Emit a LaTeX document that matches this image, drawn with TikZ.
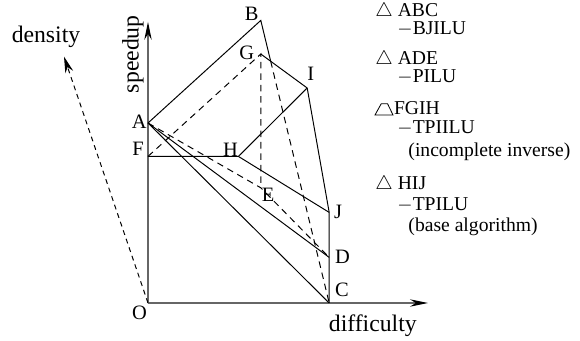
\documentclass[tikz,border=0pt,12pt]{standalone}
\usepackage{fontspec}
\setmainfont{Liberation Serif}
\usetikzlibrary{arrows.meta}
\tikzset{
  hid/.style={dash pattern=on 4pt off 3pt},
  axis/.style={black!60, line width=0.8pt, -{Stealth[length=11pt,width=4.5pt,black]}},
  dens/.style={dash pattern=on 3pt off 2.5pt, -{Stealth[length=10pt,width=5pt]}},
  pt/.style={font=\fontsize{12.5}{14}\selectfont, inner sep=0pt},
  axlabel/.style={font=\fontsize{14.5}{16}\selectfont, inner sep=0pt},
  leg/.style={font=\fontsize{12}{13}\selectfont, anchor=base west, inner sep=0pt},
}
\begin{document}
\begin{tikzpicture}[scale=0.86, line width=0.6pt]
\useasboundingbox (-3.7,-0.95) rectangle (10.8,7.575);
% corners of the surfaces
\coordinate (O) at (0,0);
\coordinate (A) at (0,4.5);
\coordinate (F) at (0,3.665);
\coordinate (H) at (2.26,3.665);
\coordinate (B) at (2.82,7.065);
\coordinate (G) at (2.82,6.225);
\coordinate (E) at (2.82,2.88);
\coordinate (I) at (3.98,5.375);
\coordinate (J) at (4.53,2.265);
\coordinate (D) at (4.53,1.14);
\coordinate (C) at (4.53,0);
\coordinate (X) at (intersection of B--C and G--I);
\coordinate (ytip) at (0,7.03);
\coordinate (xtip) at (7,0);
\coordinate (dtip) at (-2.1,6.16);
% axes
\draw[axis] (O) -- (ytip);
\draw[axis] (O) -- (xtip);
\draw[dens] (O) -- (dtip);
% surfaces
\draw (A) -- (B) -- (X);
\draw[hid] (X) -- (C);
\draw (G) -- (I) -- (J) -- (C);
\draw (F) -- (H) -- (I);
\draw (H) -- (J);
\draw (A) -- (C);
\draw (A) -- (D);
\draw[hid] (F) -- (G) -- (E);
\draw[hid] (A) -- (E) -- (D);
% point labels
\node[pt] (lA) at (-0.22,4.53) {A};
\node[pt] (lB) at (2.59,7.24) {B};
\node[pt] (lC) at (4.85,0.32) {C};
\node[pt] (lD) at (4.86,1.15) {D};
\node[pt] (lE) at (3.0,2.71) {E};
\node[pt] (lF) at (-0.25,3.85) {F};
\node[pt] (lG) at (2.47,6.25) {G};
\node[pt] (lH) at (2.06,3.83) {H};
\node[pt] (lI) at (4.07,5.72) {I};
\node[pt] (lJ) at (4.75,2.28) {J};
\node[pt] (lO) at (-0.21,-0.24) {O};
\node[axlabel] (ldens) at (-2.55,6.65) {density};
\node[axlabel, rotate=90] (lspeed) at (-0.375,6.22) {speedup};
\node[axlabel] (ldiff) at (5.62,-0.57) {difficulty};
% legend
\node[leg] (t1) at (5.675,7.16) {$\triangle$ ABC};
\node[leg] (s1) at (6.225,6.72) {$-$BJILU};
\node[leg] (t2) at (5.675,5.96) {$\triangle$ ADE};
\node[leg] (s2) at (6.225,5.5) {$-$PILU};
\draw[line width=0.5pt] (5.675,4.7) -- (5.83,4.98) -- (5.99,4.98) -- (6.125,4.7) -- cycle;
\node[leg] (t3) at (6.14,4.7) {FGIH};
\node[leg] (s3) at (6.225,4.24) {$-$TPIILU};
\node[leg] (n3) at (6.5,3.66) {(incomplete inverse)};
\node[leg] (t4) at (5.675,2.83) {$\triangle$ HIJ};
\node[leg] (s4) at (6.225,2.31) {$-$TPILU};
\node[leg] (n4) at (6.5,1.78) {(base algorithm)};
\end{tikzpicture}
\end{document}
